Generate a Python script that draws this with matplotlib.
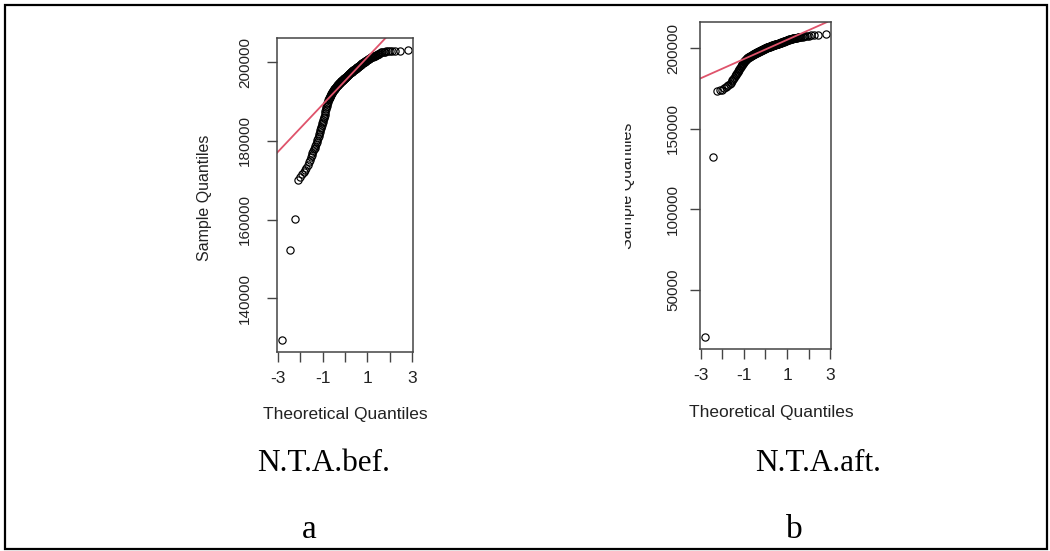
import matplotlib.pyplot as plt
import numpy as np
from statistics import NormalDist
from matplotlib.patches import Rectangle
from matplotlib.transforms import Bbox

plt.rcParams['font.family'] = ['Liberation Sans', 'DejaVu Sans']

bef = [
    129300, 152200, 160200, 170100, 170900, 171500, 172100, 172600, 173200, 173900, 174600, 175200, 175800, 176400,
    176900, 177400, 177900, 178300, 178800, 179200, 179700, 180300, 180700, 181200, 181700, 182200, 182700, 183200,
    183600, 184100, 184500, 184900, 185300, 185700, 186200, 186700, 187200, 187600, 188000, 188500, 188900, 189300,
    189600, 190000, 190300, 190600, 190700, 190900, 191100, 191200, 191400, 191600, 191800, 192000, 192200, 192300,
    192500, 192600, 192700, 192800, 192900, 193100, 193200, 193300, 193400, 193500, 193600, 193700, 193800, 193900,
    194000, 194100, 194100, 194200, 194300, 194400, 194500, 194600, 194600, 194700, 194800, 194900, 195000, 195100,
    195100, 195200, 195300, 195300, 195400, 195500, 195500, 195600, 195700, 195700, 195800, 195900, 195900, 196000,
    196100, 196100, 196200, 196300, 196300, 196400, 196500, 196500, 196600, 196700, 196700, 196800, 196900, 197000,
    197000, 197100, 197200, 197200, 197300, 197400, 197400, 197500, 197500, 197600, 197700, 197700, 197800, 197900,
    197900, 198000, 198100, 198100, 198200, 198200, 198300, 198400, 198500, 198500, 198600, 198700, 198700, 198800,
    198900, 198900, 199000, 199100, 199100, 199200, 199300, 199400, 199400, 199500, 199600, 199700, 199700, 199800,
    199900, 199900, 200000, 200100, 200100, 200200, 200300, 200400, 200400, 200500, 200600, 200700, 200800, 200800,
    200900, 201000, 201100, 201200, 201300, 201300, 201400, 201500, 201600, 201700, 201700, 201800, 201900, 202000,
    202100, 202200, 202400, 202500, 202500, 202600, 202700, 202800, 202800, 202800, 202800, 202800, 202900, 203200,
]
aft = [
    20700, 132700, 173200, 173700, 174300, 175100, 175700, 176500, 177200, 177900, 178500, 179300, 180100, 180800,
    181600, 182400, 183100, 183800, 184500, 185200, 185900, 186600, 187200, 187900, 188500, 189000, 189500, 190000,
    190400, 190900, 191300, 191600, 191900, 192200, 192500, 192800, 193100, 193400, 193600, 193800, 194100, 194300,
    194400, 194500, 194600, 194700, 194800, 194900, 195000, 195200, 195300, 195500, 195600, 195700, 195900, 196000,
    196100, 196300, 196400, 196500, 196600, 196700, 196800, 196900, 197000, 197100, 197200, 197300, 197400, 197500,
    197600, 197700, 197800, 197900, 198000, 198100, 198100, 198200, 198300, 198400, 198500, 198600, 198700, 198800,
    198800, 198900, 199000, 199100, 199200, 199300, 199400, 199400, 199500, 199600, 199700, 199800, 199900, 200000,
    200000, 200100, 200200, 200200, 200300, 200400, 200400, 200500, 200600, 200700, 200700, 200800, 200900, 200900,
    201000, 201100, 201100, 201200, 201300, 201300, 201400, 201500, 201600, 201600, 201700, 201700, 201800, 201900,
    201900, 202000, 202000, 202100, 202100, 202200, 202300, 202300, 202400, 202500, 202500, 202600, 202600, 202700,
    202800, 202800, 202900, 203000, 203000, 203100, 203200, 203300, 203300, 203400, 203500, 203600, 203700, 203800,
    203900, 204000, 204100, 204200, 204300, 204400, 204500, 204600, 204700, 204800, 204900, 205000, 205100, 205200,
    205300, 205400, 205500, 205600, 205700, 205800, 205900, 206000, 206000, 206100, 206200, 206300, 206400, 206500,
    206600, 206700, 206800, 207000, 207100, 207200, 207300, 207500, 207600, 207700, 207900, 208000, 208100, 208700,
]
names = ['N.T.A.bef.', 'N.T.A.aft.']
letters = ['a', 'b']
bef_yticks = [140000, 160000, 180000, 200000]
aft_yticks = [50000, 100000, 150000, 200000]
xticks = [-3, -2, -1, 0, 1, 2, 3]
xticklabels = ['-3', '', '-1', '', '1', '', '3']

W, H = 1050, 551
fig = plt.figure(figsize=(W / 100, H / 100), dpi=100)


def box(l, t, r, b):
    # pixel box (top-left origin) -> figure fraction rect
    return [l / W, 1 - b / H, (r - l) / W, (b - t) / H]


def txt(x, y, s, **kw):
    return fig.text(x / W, 1 - y / H, s, **kw)


def qqplot(ax, vals, yticks, ypad):
    vals = np.sort(np.array(vals, dtype=float))
    n = len(vals)
    nd = NormalDist()
    z = np.array([nd.inv_cdf((i - 0.5) / n) for i in range(1, n + 1)])
    ax.plot(z, vals, 'o', ms=5.2, mfc='none', mec='black', mew=0.85)
    # qqline through the quartiles
    zq = [nd.inv_cdf(0.25), nd.inv_cdf(0.75)]
    yq = np.quantile(vals, [0.25, 0.75])
    slope = (yq[1] - yq[0]) / (zq[1] - zq[0])
    ax.axline((zq[0], yq[0]), slope=slope, color='#DF536B', lw=1.3)
    dx = (z.max() - z.min()) * 0.04
    dy = (vals.max() - vals.min()) * 0.04
    ax.set_xlim(z.min() - dx, z.max() + dx)
    ax.set_ylim(vals.min() - dy, vals.max() + dy)
    ax.set_xticks(xticks)
    ax.set_xticklabels(xticklabels)
    ax.set_yticks(yticks)
    ax.set_yticklabels([str(t) for t in yticks], rotation=90, va='center',
                       fontfamily=['Liberation Sans Narrow', 'Liberation Sans'], fontsize=11)
    ax.tick_params(axis='x', direction='out', length=7, width=1, color='#444444',
                   labelsize=12.5, labelcolor='#222222', pad=7)
    ax.tick_params(axis='y', direction='out', length=7, width=1, color='#444444',
                   labelcolor='#222222', pad=ypad)
    for sp in ax.spines.values():
        sp.set_color('#444444')
        sp.set_linewidth(1.1)


ax1 = fig.add_axes(box(277, 38, 413, 352))
qqplot(ax1, bef, bef_yticks, 11.0)
ax2 = fig.add_axes(box(700, 22, 831, 349))
qqplot(ax2, aft, aft_yticks, 7.5)

txt(345, 414, 'Theoretical Quantiles', ha='center', va='center', fontsize=12.5, color='#222222')
txt(771, 413, 'Theoretical Quantiles', ha='center', va='center', fontsize=12.5, color='#222222')
txt(204, 198, 'Sample Quantiles', ha='center', va='center', rotation=90, fontsize=11.5, color='#222222')
# the left half of this label is cut off in the original
lab = txt(627, 186, 'Sample Quantiles', ha='center', va='center', rotation=90, fontsize=11.5, color='#222222')
lab.set_clip_box(Bbox.from_extents(625, 0, W, H))
lab.set_clip_on(True)

serif = ['Liberation Serif', 'DejaVu Serif']
txt(324, 471, names[0], ha='center', va='baseline', fontsize=22.5, family=serif)
txt(818, 471, names[1], ha='center', va='baseline', fontsize=22.5, family=serif)
txt(309, 538, letters[0], ha='center', va='baseline', fontsize=24, family=serif)
txt(794, 538, letters[1], ha='center', va='baseline', fontsize=24, family=serif)

fig.patches.append(Rectangle((5 / W, 2 / H), 1042 / W, 544 / H, transform=fig.transFigure,
                             fill=False, edgecolor='black', lw=1.6))

fig.savefig('out.png', dpi=100)
